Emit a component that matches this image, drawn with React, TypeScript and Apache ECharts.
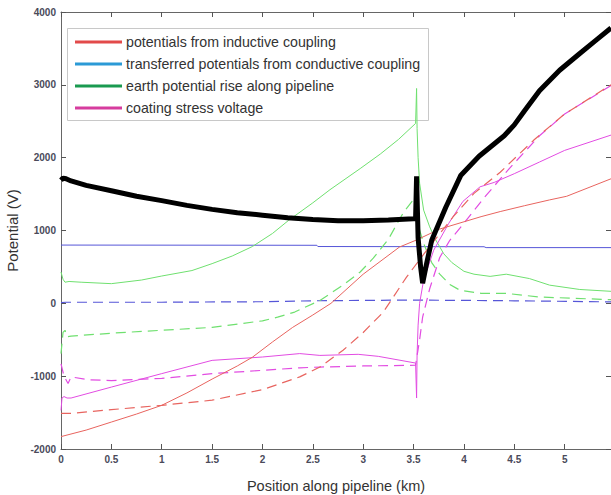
import React, { useEffect, useRef } from "react";
import * as echarts from "echarts";

type P = [number, number];

const legendNames = [
  "potentials from inductive coupling",
  "transferred potentials from conductive coupling",
  "earth potential rise along pipeline",
  "coating stress voltage",
];
const legendColors = ["#e24a4a", "#2b9ad6", "#1a9a50", "#d63c9e"];

const xTicks = [0, 0.5, 1, 1.5, 2, 2.5, 3, 3.5, 4, 4.5, 5];
const yTicks = [-2000, -1000, 0, 1000, 2000, 3000, 4000];

const inductiveSolid: P[] = [
  [0, -1830], [0.25, -1740], [0.5, -1630], [0.75, -1520], [1.0, -1400], [1.25, -1230],
  [1.5, -1040], [1.75, -860], [1.9, -740], [2.1, -530], [2.3, -330], [2.5, -160],
  [2.68, 0], [3.0, 400], [3.36, 773], [3.53, 870], [3.76, 1020], [4.17, 1190],
  [4.36, 1260], [4.6, 1340], [4.85, 1420], [5.02, 1470], [5.46, 1710],
];
const inductiveDashed: P[] = [
  [0, -1510], [0.1, -1510], [0.5, -1460], [1.0, -1400], [1.5, -1330], [2.0, -1185],
  [2.37, -1010], [2.57, -875], [2.8, -645], [3.0, -400], [3.2, -120], [3.43, 360],
  [3.63, 728], [3.9, 1200], [4.1, 1510], [4.36, 1800], [4.7, 2250], [5.0, 2600], [5.46, 3000],
];
const conductiveSolid: P[] = [
  [0, 800], [2.54, 797], [2.55, 780], [4.2, 777], [4.22, 765], [5.46, 765],
];
const conductiveDashed: P[] = [
  [0, 10], [0.05, 15], [1, 15], [2, 22], [2.5, 35], [3.5, 45], [4.5, 35], [5.46, 20],
];
const earthSolid: P[] = [
  [0, 430], [0.02, 330], [0.04, 290], [0.08, 300], [0.2, 290], [0.5, 270], [0.8, 320],
  [1.0, 375], [1.3, 450], [1.5, 545], [1.7, 650], [1.9, 780], [2.1, 960], [2.26, 1140],
  [2.5, 1380], [2.67, 1560], [2.97, 1850], [3.17, 2050], [3.35, 2250], [3.52, 2470],
  [3.53, 2950], [3.535, 2400], [3.545, 2000], [3.56, 1650], [3.6, 1280], [3.66, 1050],
  [3.72, 870], [3.8, 680], [3.88, 560], [4.0, 440], [4.1, 400], [4.26, 370], [4.42, 400],
  [4.65, 340], [4.85, 250], [5.15, 190], [5.46, 165],
];
const earthDashed: P[] = [
  [0, -690], [0.02, -400], [0.04, -370], [0.06, -460], [0.1, -450], [0.5, -410],
  [1.0, -370], [1.5, -330], [1.78, -280], [2.0, -240], [2.15, -190], [2.32, -120],
  [2.57, 40], [2.8, 250], [2.97, 430], [3.1, 620], [3.25, 880], [3.4, 1250], [3.52, 1460],
  [3.54, 1100], [3.6, 820], [3.68, 560], [3.76, 400], [3.86, 260], [3.96, 180],
  [4.17, 137], [4.42, 137], [4.75, 87], [5.46, 50],
];
const coatingSolid: P[] = [
  [0, -1470], [0.01, -1300], [0.03, -1280], [0.06, -1300], [0.1, -1300], [0.5, -1150],
  [1.0, -965], [1.5, -783], [2.0, -737], [2.37, -690], [2.57, -715], [2.95, -700],
  [3.15, -728], [3.52, -820], [3.53, -1300], [3.535, -700], [3.545, -300], [3.56, 0],
  [3.6, 320], [3.7, 730], [3.85, 1100], [3.99, 1400], [4.16, 1600], [4.3, 1660],
  [4.5, 1780], [4.75, 1940], [5.0, 2100], [5.46, 2310],
];
const coatingDashed: P[] = [
  [0, -830], [0.03, -1000], [0.07, -1100], [0.1, -1010], [0.27, -1050], [0.5, -1060],
  [1.0, -1030], [1.5, -965], [2.0, -920], [2.37, -885], [2.57, -875], [3.0, -860],
  [3.52, -850], [3.56, -500], [3.59, -190], [3.66, 200], [3.76, 630], [3.86, 866],
  [4.0, 1100], [4.2, 1450], [4.45, 1850], [4.75, 2300], [5.0, 2600], [5.46, 2990],
];
const totalPotential: P[] = [
  [0, 1690], [0.02, 1720], [0.05, 1710], [0.1, 1680], [0.25, 1620], [0.5, 1545],
  [0.75, 1470], [1, 1410], [1.25, 1345], [1.5, 1290], [1.75, 1245], [2, 1210],
  [2.25, 1175], [2.5, 1150], [2.75, 1135], [3, 1135], [3.25, 1145], [3.5, 1160], [3.52, 1160],
  [3.53, 1745], [3.545, 900], [3.57, 500], [3.59, 275], [3.63, 550], [3.68, 866],
  [3.82, 1320], [3.97, 1760], [4.15, 2020], [4.4, 2300], [4.5, 2450],
  [4.6, 2640], [4.75, 2920], [4.95, 3200], [5.15, 3430], [5.3, 3600], [5.46, 3780],
];

const lineColors = { red: "#e8645f", blue: "#5656d8", green: "#6fe06f", magenta: "#e24ce2" };

export default function App() {
  const ref = useRef<HTMLDivElement>(null);
  useEffect(() => {
    if (!ref.current) return;
    const chart = echarts.init(ref.current, undefined, { renderer: "svg" });
    const font = "Liberation Sans, Arial, sans-serif";
    const mk = (data: P[], color: string, dashed: boolean, width = 1) => ({
      type: "line",
      data,
      showSymbol: false,
      symbol: "none",
      lineStyle: { color, width, type: dashed ? [10, 6] : "solid" },
      z: 2,
    });
    const legendY = [42, 64, 86, 108];
    const graphic: any[] = [
      {
        type: "rect",
        shape: { x: 67.5, y: 28.5, width: 361, height: 92 },
        style: { fill: "none", stroke: "#c8c8c8", lineWidth: 1 },
        z: 1,
      },
    ];
    legendNames.forEach((name, i) => {
      graphic.push({
        type: "line",
        shape: { x1: 75, y1: legendY[i], x2: 122, y2: legendY[i] },
        style: { stroke: legendColors[i], lineWidth: 3 },
        z: 1,
      });
      graphic.push({
        type: "text",
        x: 126,
        y: legendY[i],
        style: {
          text: name,
          fontSize: 14.2,
          fontFamily: font,
          fill: "#333",
          verticalAlign: "middle",
        },
        z: 1,
      });
    });
    const axisLabelStyle = { fontSize: 10, fontWeight: "bold", color: "#4a4a5a", fontFamily: font };
    const boxLine = { show: true, onZero: false, lineStyle: { color: "#666", width: 1 } };
    const tick = { show: true, inside: true, length: 5, lineStyle: { color: "#555" } };
    chart.setOption({
      animation: false,
      grid: { left: 61, top: 12, right: 0, bottom: 46, containLabel: false, outerBoundsMode: "none" },
      xAxis: [
        {
          type: "value",
          min: 0,
          max: 5.46,
          interval: 0.5,
          position: "bottom",
          name: "Position along pipeline (km)",
          nameLocation: "middle",
          nameGap: 29,
          nameTextStyle: { fontSize: 14.5, color: "#333", fontFamily: font },
          axisLine: boxLine,
          axisTick: tick,
          axisLabel: {
            ...axisLabelStyle,
            margin: 5,
            showMaxLabel: false,
            formatter: (v: number) => (xTicks.includes(+v.toFixed(2)) ? String(+v.toFixed(2)) : ""),
          },
          splitLine: { show: false },
        },
        {
          type: "value",
          min: 0,
          max: 5.46,
          interval: 0.5,
          position: "top",
          axisLine: boxLine,
          axisTick: tick,
          axisLabel: { show: false },
          splitLine: { show: false },
        },
      ],
      yAxis: [
        {
          type: "value",
          min: -2000,
          max: 4000,
          interval: 1000,
          position: "left",
          name: "Potential (V)",
          nameLocation: "middle",
          nameGap: 35,
          nameTextStyle: { fontSize: 15, color: "#333", fontFamily: font },
          axisLine: boxLine,
          axisTick: tick,
          axisLabel: {
            ...axisLabelStyle,
            margin: 5,
            formatter: (v: number) => (yTicks.includes(v) ? String(v) : ""),
          },
          splitLine: { show: false },
        },
        {
          type: "value",
          min: -2000,
          max: 4000,
          interval: 1000,
          position: "right",
          axisLine: boxLine,
          axisTick: tick,
          axisLabel: { show: false },
          splitLine: { show: false },
        },
      ],
      graphic,
      series: [
        mk(conductiveSolid, lineColors.blue, false),
        mk(conductiveDashed, lineColors.blue, true, 1.2),
        mk(earthSolid, lineColors.green, false),
        mk(earthDashed, lineColors.green, true, 1.2),
        mk(coatingSolid, lineColors.magenta, false),
        mk(coatingDashed, lineColors.magenta, true, 1.2),
        mk(inductiveSolid, lineColors.red, false),
        mk(inductiveDashed, lineColors.red, true, 1.2),
        { ...mk(totalPotential, "#000", false, 5), z: 3 },
      ],
    });
    return () => chart.dispose();
  }, []);
  return <div ref={ref} style={{ width: 611, height: 495, position: "absolute", left: 0, top: 0 }} />;
}
